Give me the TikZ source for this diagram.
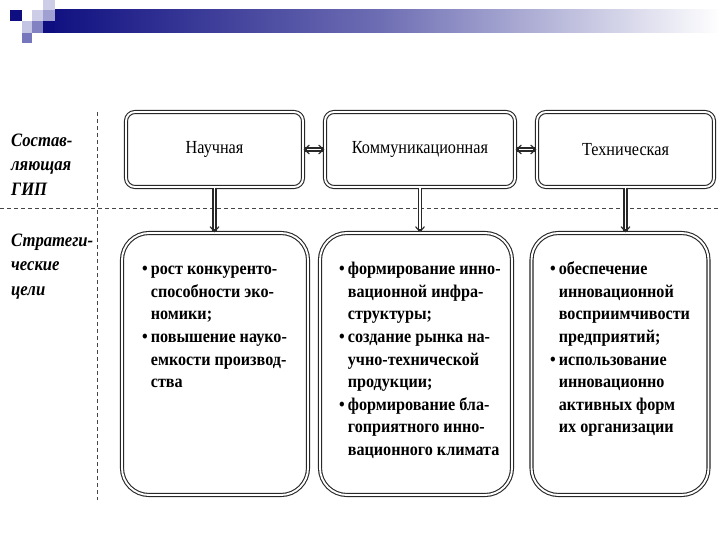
\documentclass[tikz,border=0pt]{standalone}
\usepackage{fontspec}
\setmainfont{Liberation Serif}
\newfontfamily\condserif[FakeStretch=0.88]{Liberation Serif}
\newfontfamily\bodyserif[FakeStretch=0.9]{Liberation Serif}
\usetikzlibrary{arrows.meta}
\definecolor{navyd}{RGB}{14,14,128}
\definecolor{navym}{RGB}{110,110,180}
\definecolor{lavl}{RGB}{205,205,232}
\definecolor{lavm}{RGB}{160,160,210}
\definecolor{lavd}{RGB}{130,130,195}
\definecolor{linec}{RGB}{40,40,40}
\definecolor{dashc}{RGB}{70,70,70}
\begin{document}
\begin{tikzpicture}[x=1bp,y=-1bp,
  dline/.style={draw=linec, line width=1.1bp, double=white, double distance=1.9bp},
  topbox/.style={dline, rounded corners=9bp, minimum height=75bp, inner sep=0pt,
    font=\condserif\fontsize{18.5}{21}\selectfont},
  botbox/.style={dline, rounded corners=27bp, minimum height=262bp, inner sep=0pt},
  bodytext/.style={anchor=north west, inner sep=0pt, align=left,
    font=\bodyserif\bfseries\fontsize{18}{22.6}\selectfont},
  sidelabel/.style={anchor=north west, inner sep=0pt, align=left,
    font=\condserif\bfseries\itshape\fontsize{19}{24.5}\selectfont},
  guide/.style={draw=dashc, line width=0.8bp, dash pattern=on 4bp off 3bp},
  barb/.tip={Straight Barb[length=5bp,width=9bp,line width=1.1bp]},
  tiponly/.style={draw=linec, line width=1.1bp, -barb}
]
\useasboundingbox (0,0) rectangle (720,540);
\fill[white] (0,0) rectangle (720,540);

% header bar
\shade[left color=navyd, right color=white, middle color=navym] (44,10) rectangle (720,33);
\fill[lavl] (43,0) rectangle (55,10);
\fill[navyd] (10,10) rectangle (22,21);
\fill[lavl] (32,10) rectangle (43,21);
\fill[lavm] (43,10) rectangle (55,21);
\fill[lavl!80!lavm] (22,21) rectangle (32,33);
\fill[lavd] (32,21) rectangle (43,33);
\fill[navyd] (43,21) rectangle (55,33);
\fill[lavd!90!navyd] (22,33) rectangle (32,43);

% guide lines
\coordinate (hl) at (0,208);
\coordinate (hr) at (720,208);
\coordinate (vt) at (97,112);
\coordinate (vb) at (97,500);
\draw[guide] (hl) -- (hr);
\draw[guide] (vt) -- (vb);

% side labels
\node[sidelabel] (L1) at (11,129) {\begin{tabular}{@{}l@{}}Состав-\\ляющая\\ГИП\end{tabular}};
\node[sidelabel] (L2) at (11,229) {\begin{tabular}{@{}l@{}}Стратеги-\\ческие\\цели\end{tabular}};

% top boxes
\node[topbox, minimum width=177bp] (A1) at (214.5,149.5) {\raisebox{-3bp}{Научная}};
\node[topbox, minimum width=190bp] (A2) at (420,149.5) {\raisebox{-3bp}{Коммуникационная}};
\node[topbox, minimum width=177bp] (A3) at (625.5,149.5) {\raisebox{-3bp}{Техническая}};

% bottom boxes
\node[botbox, minimum width=186bp] (B1) at (215,364) {};
\node[botbox, minimum width=192bp] (B2) at (416,364) {};
\node[botbox, minimum width=177bp] (B3) at (620,364) {};

% connectors: double shafts
\draw[dline] (A1.east) -- (A2.west);
\draw[dline] (A2.east) -- (A3.west);
\draw[dline] (A1.south) -- (A1.south |- B1.north);
\draw[dline] (A2.south) -- (A2.south |- B2.north);
\draw[dline] (A3.south) -- (A3.south |- B3.north);
% arrow heads
\draw[tiponly] (A1.east) ++(3,0) -- (A1.east);
\draw[tiponly] (A2.west) ++(-3,0) -- (A2.west);
\draw[tiponly] (A2.east) ++(3,0) -- (A2.east);
\draw[tiponly] (A3.west) ++(-3,0) -- (A3.west);
\draw[tiponly] (A1.south |- B1.north) ++(0,-3) -- (A1.south |- B1.north);
\draw[tiponly] (A2.south |- B2.north) ++(0,-3) -- (A2.south |- B2.north);
\draw[tiponly] (A3.south |- B3.north) ++(0,-3) -- (A3.south |- B3.north);

% texts
\node[bodytext] (T1) at (142,259) {\begin{tabular}{@{}l@{\hspace{3bp}}l@{}}
\textbullet & рост конкуренто-\\
 & способности эко-\\
 & номики;\\
\textbullet & повышение науко-\\
 & емкости производ-\\
 & ства
\end{tabular}};
\node[bodytext] (T2) at (339,259) {\begin{tabular}{@{}l@{\hspace{3bp}}l@{}}
\textbullet & формирование инно-\\
 & вационной инфра-\\
 & структуры;\\
\textbullet & создание рынка на-\\
 & учно-технической\\
 & продукции;\\
\textbullet & формирование бла-\\
 & гоприятного инно-\\
 & вационного климата
\end{tabular}};
\node[bodytext] (T3) at (550,259) {\begin{tabular}{@{}l@{\hspace{3bp}}l@{}}
\textbullet & обеспечение\\
 & инновационной\\
 & восприимчивости\\
 & предприятий;\\
\textbullet & использование\\
 & инновационно\\
 & активных форм\\
 & их организации
\end{tabular}};
\end{tikzpicture}
\end{document}
